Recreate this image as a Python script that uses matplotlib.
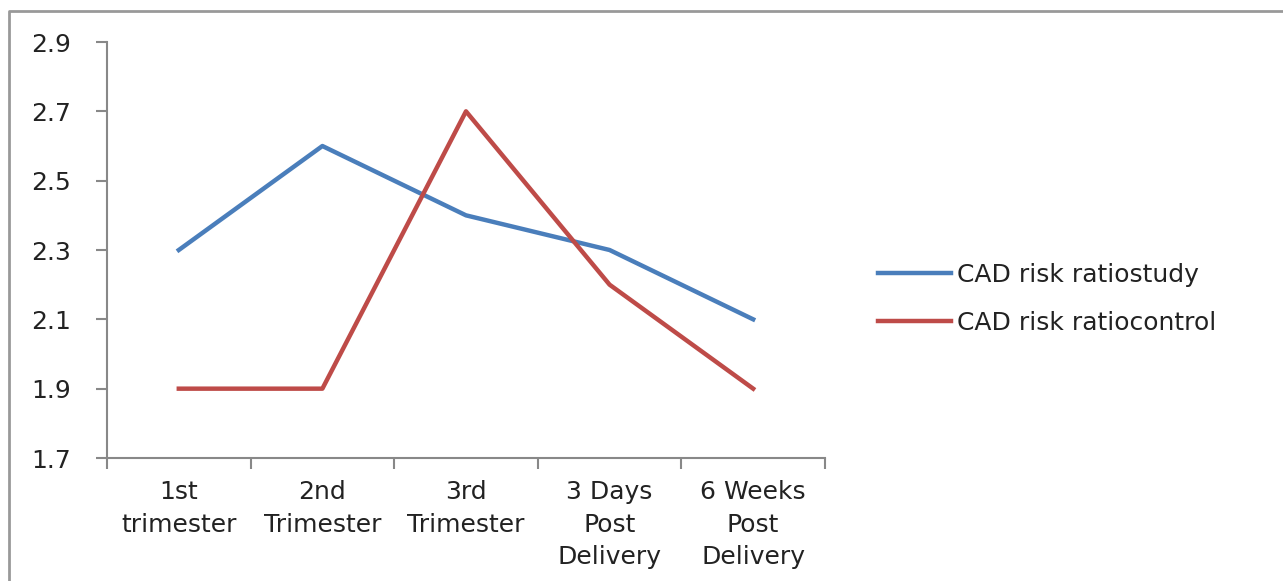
import numpy as np
import matplotlib.pyplot as plt
from matplotlib.lines import Line2D

categories = ['1st\ntrimester', '2nd\nTrimester', '3rd\nTrimester',
              '3 Days\nPost\nDelivery', '6 Weeks\nPost\nDelivery']
study = [2.3, 2.6, 2.4, 2.3, 2.1]
control = [1.9, 1.9, 2.7, 2.2, 1.9]
series_names = ['CAD risk ratiostudy', 'CAD risk ratiocontrol']
yticks = [1.7, 1.9, 2.1, 2.3, 2.5, 2.7, 2.9]

plt.rc('font', family='DejaVu Sans')

fig = plt.figure(figsize=(12.83, 5.81), dpi=100)
ax = fig.add_axes([0.0834, 0.2117, 0.5596, 0.716])

x = np.arange(len(categories))
ax.plot(x, study, color='#4a7ebb', lw=3.2, label=series_names[0], solid_joinstyle='round')
ax.plot(x, control, color='#be4b48', lw=3.2, label=series_names[1], solid_joinstyle='round')

ax.set_xlim(-0.5, len(categories) - 0.5)
ax.set_ylim(1.7, 2.9)
ax.set_yticks(yticks)
ax.set_yticklabels(['%.1f' % v for v in yticks], fontsize=18, color='#222222')

# category ticks sit between the points, labels under each point
ax.set_xticks(np.arange(len(categories) + 1) - 0.5)
ax.set_xticklabels([])
ax.set_xticks(x, minor=True)
ax.set_xticklabels(categories, minor=True, fontsize=18, color='#222222',
                   linespacing=1.44)
ax.tick_params(axis='x', which='minor', length=0, pad=16)
ax.tick_params(axis='both', which='major', length=8, width=1.5, color='#888888')
ax.tick_params(axis='y', pad=18)

for side in ['top', 'right']:
    ax.spines[side].set_visible(False)
for side in ['left', 'bottom']:
    ax.spines[side].set_color('#888888')
    ax.spines[side].set_linewidth(1.5)

fig.legend(loc='center left', bbox_to_anchor=(0.667, 0.4854), frameon=False,
           fontsize=18, handlelength=2.9, handletextpad=0.25, labelspacing=0.95,
           labelcolor='#222222')

# outer chart frame (top and left edges)
fig.add_artist(Line2D([0.007, 0.007, 1.0], [0.0, 0.981, 0.981],
                      transform=fig.transFigure, color='#999999', lw=2))

fig.savefig('out.png', dpi=100)
